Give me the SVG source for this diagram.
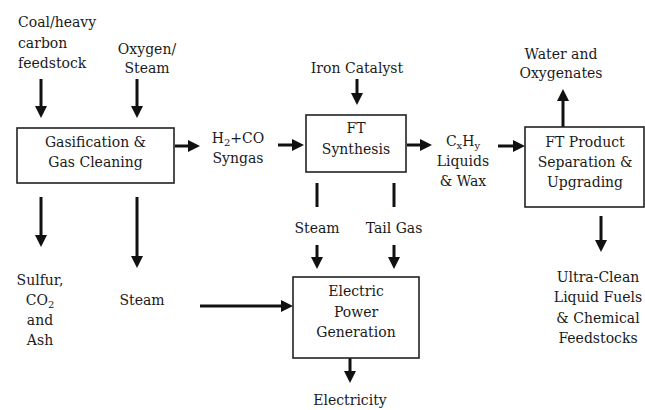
<svg xmlns="http://www.w3.org/2000/svg" width="645" height="410" viewBox="0 0 645 410">
<defs>
<style>
text{font-family:"DejaVu Serif","Liberation Serif",serif;font-size:14px;fill:#1a1a1a;}
.c{text-anchor:middle;}
.box{fill:#fff;stroke:#222;stroke-width:1.6;}
.ln{stroke:#111;stroke-width:3;fill:none;}
.a{marker-end:url(#ah);}
.sub{font-size:10px;}
</style>
<marker id="ah" markerWidth="13" markerHeight="12" refX="2" refY="6" orient="auto" markerUnits="userSpaceOnUse">
<path d="M0,0 L12,6 L0,12z" fill="#111"/>
</marker>
</defs>
<rect width="645" height="410" fill="#fff"/>
<g id="connectors">
<line class="ln a" x1="41" y1="79" x2="41" y2="108"/>
<line class="ln a" x1="137" y1="79" x2="137" y2="108"/>
<line class="ln a" x1="175" y1="146" x2="190" y2="146"/>
<line class="ln a" x1="278" y1="145" x2="294" y2="145"/>
<line class="ln a" x1="357" y1="79" x2="357" y2="95"/>
<line class="ln a" x1="407" y1="145" x2="422" y2="145"/>
<line class="ln a" x1="498" y1="146" x2="515" y2="146"/>
<line class="ln a" x1="563" y1="127" x2="563" y2="99"/>
<line class="ln a" x1="41" y1="197" x2="41" y2="237"/>
<line class="ln a" x1="137" y1="197" x2="137" y2="258"/>
<line class="ln a" x1="200" y1="306" x2="283" y2="306"/>
<line class="ln" x1="317" y1="183" x2="317" y2="207"/>
<line class="ln" x1="394" y1="183" x2="394" y2="207"/>
<line class="ln a" x1="317" y1="245" x2="317" y2="259"/>
<line class="ln a" x1="394" y1="245" x2="394" y2="259"/>
<line class="ln a" x1="350" y1="358" x2="350" y2="373"/>
<line class="ln a" x1="601" y1="216" x2="601" y2="242"/>
</g>
<g id="coal">
<text x="18" y="27">Coal/heavy</text>
<text x="18" y="48">carbon</text>
<text x="18" y="68">feedstock</text>
</g>
<g id="oxygen">
<text class="c" x="147" y="54">Oxygen/</text>
<text class="c" x="147" y="73">Steam</text>
</g>
<g id="gasification">
<rect class="box" x="17" y="128" width="157" height="55"/>
<text class="c" x="95.5" y="147">Gasification &amp;</text>
<text class="c" x="95.5" y="167">Gas Cleaning</text>
</g>
<g id="syngas">
<text class="c" x="238" y="143">H<tspan class="sub" dy="3">2</tspan><tspan dy="-3">+CO</tspan></text>
<text class="c" x="238" y="163">Syngas</text>
</g>
<g id="iron">
<text class="c" x="357" y="73">Iron Catalyst</text>
</g>
<g id="ft">
<rect class="box" x="306" y="115" width="100" height="57"/>
<text class="c" x="356" y="133">FT</text>
<text class="c" x="356" y="154">Synthesis</text>
</g>
<g id="liquids">
<text class="c" x="463" y="146">C<tspan class="sub" dy="3">x</tspan><tspan dy="-3">H</tspan><tspan class="sub" dy="3">y</tspan></text>
<text class="c" x="463" y="166">Liquids</text>
<text class="c" x="463" y="186">&amp; Wax</text>
</g>
<g id="water">
<text class="c" x="561" y="59">Water and</text>
<text class="c" x="561" y="78">Oxygenates</text>
</g>
<g id="ftproduct">
<rect class="box" x="525" y="127" width="119" height="80"/>
<text class="c" x="585" y="147">FT Product</text>
<text class="c" x="585" y="167">Separation &amp;</text>
<text class="c" x="585" y="187">Upgrading</text>
</g>
<g id="sulfur">
<text class="c" x="40" y="285">Sulfur,</text>
<text class="c" x="40" y="305">CO<tspan class="sub" dy="3">2</tspan></text>
<text class="c" x="40" y="325">and</text>
<text class="c" x="40" y="345">Ash</text>
</g>
<g id="steam-left">
<text class="c" x="142" y="305">Steam</text>
</g>
<g id="steam-mid">
<text class="c" x="317" y="233">Steam</text>
</g>
<g id="tailgas">
<text class="c" x="394" y="233">Tail Gas</text>
</g>
<g id="power">
<rect class="box" x="293" y="277" width="126" height="81"/>
<text class="c" x="356" y="296">Electric</text>
<text class="c" x="356" y="317">Power</text>
<text class="c" x="356" y="337">Generation</text>
</g>
<g id="electricity">
<text class="c" x="350" y="405">Electricity</text>
</g>
<g id="fuels">
<text class="c" x="598" y="282">Ultra-Clean</text>
<text class="c" x="598" y="302">Liquid Fuels</text>
<text class="c" x="598" y="323">&amp; Chemical</text>
<text class="c" x="598" y="343">Feedstocks</text>
</g>
</svg>
